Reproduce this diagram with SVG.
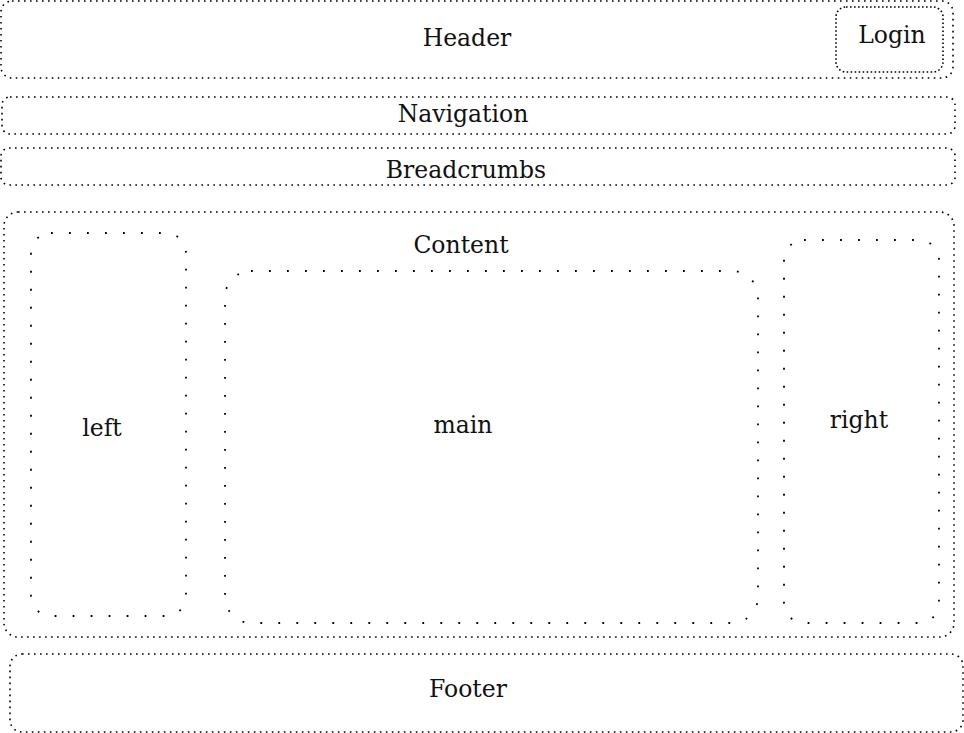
<svg xmlns="http://www.w3.org/2000/svg" width="964" height="733" viewBox="0 0 964 733">
<style>
.b{fill:none;stroke:#000;stroke-width:1.6;stroke-dasharray:1.6 4.4}
.s{fill:none;stroke:#000;stroke-width:1.6;stroke-dasharray:1.6 2.4}
.w{fill:none;stroke:#000;stroke-width:1.8;stroke-dasharray:1.8 16.2}
text{font-family:"DejaVu Serif",serif;font-size:23.5px;text-anchor:middle;fill:#111}
</style>
<rect width="964" height="733" fill="#fff"/>
<g id="header"><rect class="b" x="1" y="1" width="952" height="77" rx="11"/><text x="467" y="46">Header</text></g>
<g id="login"><rect class="s" x="836" y="7" width="107" height="65" rx="10"/><text x="892" y="43">Login</text></g>
<g id="navigation"><rect class="b" x="2" y="97" width="953" height="37" rx="8"/><text x="463" y="122">Navigation</text></g>
<g id="breadcrumbs"><rect class="b" x="1" y="148" width="954" height="37" rx="8"/><text x="466" y="178">Breadcrumbs</text></g>
<g id="content"><rect class="b" x="4" y="212" width="950" height="425" rx="14"/><text x="461" y="253">Content</text></g>
<g id="left"><rect class="w" x="31" y="233" width="155" height="383" rx="20"/><text x="102" y="436">left</text></g>
<g id="main"><rect class="w" x="225" y="271" width="533" height="352" rx="26"/><text x="463" y="433">main</text></g>
<g id="right"><rect class="w" x="784" y="240" width="155" height="383" rx="20"/><text x="859" y="428">right</text></g>
<g id="footer"><rect class="b" x="10" y="654" width="953" height="78" rx="12"/><text x="468" y="697">Footer</text></g>
<g id="connectors"/>
</svg>
